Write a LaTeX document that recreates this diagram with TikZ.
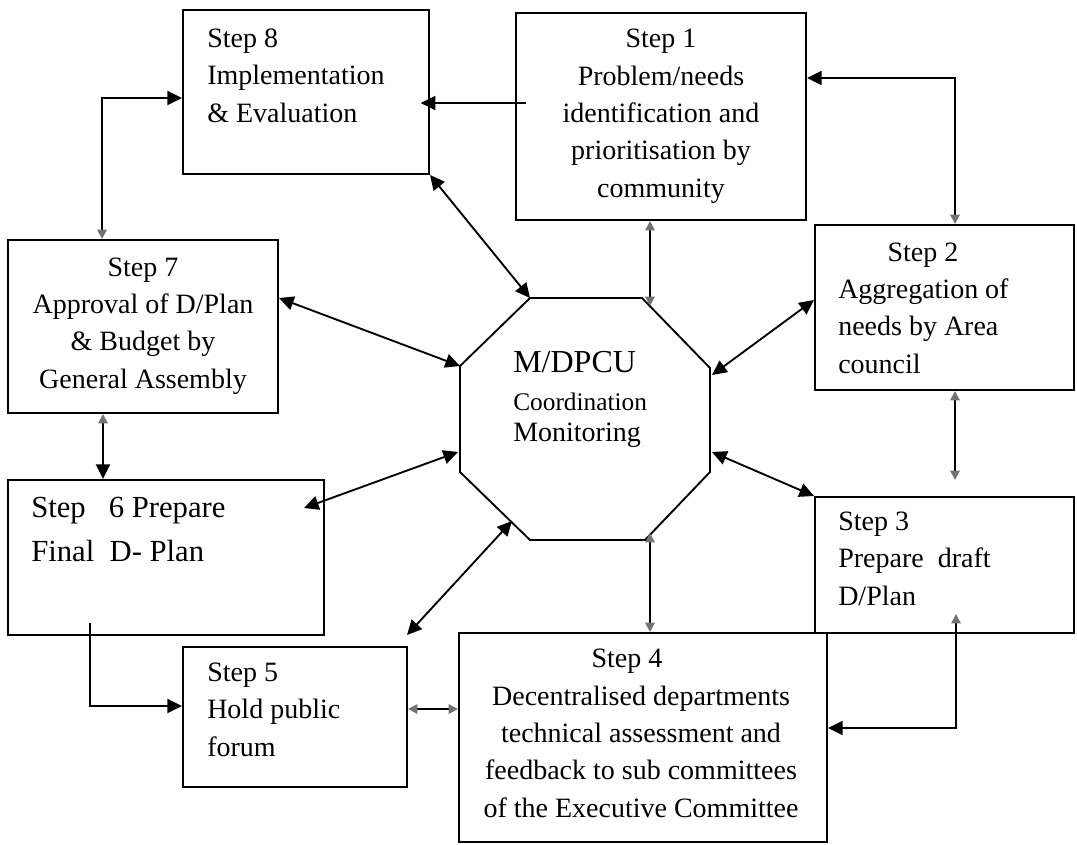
\documentclass[tikz,border=0pt]{standalone}
\usepackage{fontspec}
\setmainfont{Liberation Serif}
\usetikzlibrary{arrows.meta,fit,calc}
\tikzset{
  Big/.tip={Triangle[length=11pt,width=10.5pt]},
  Faint/.tip={Triangle[length=7pt,width=7pt,color=black!55]},
  box/.style={draw,rectangle,line width=1.5pt,inner sep=0pt},
  conn/.style={line width=1.4pt},
  txt/.style={inner sep=0pt,font=\fontsize{21pt}{28pt}\selectfont},
  % multi-line texts are placed by the baseline of their last line
  txtl/.style={txt,align=left,anchor=base west},
  txtc/.style={txt,align=center,anchor=base},
  hubtxt/.style={inner sep=0pt,anchor=base west},
}
\begin{document}
\begin{tikzpicture}[x=0.75pt,y=-0.75pt]
\useasboundingbox[fill=white] (0,0) rectangle (1077,844);

% step boxes
\node[box,fit={(183,10)(429,174)}]   (s8) {};
\node[box,fit={(516,13)(806,220)}]   (s1) {};
\node[box,fit={(815,225)(1074,390)}] (s2) {};
\node[box,fit={(815,497)(1074,633)}] (s3) {};
\node[box,fit={(459,633)(827,842)}]  (s4) {};
\node[box,fit={(183,647)(407,787)}]  (s5) {};
\node[box,fit={(8,480)(324,635)}]    (s6) {};
\node[box,fit={(8,240)(278,413)}]    (s7) {};

% box texts
\node[txtl] (t8) at (207,122) {Step 8\\Implementation\\\& Evaluation};
\node[txtc] (t1) at (661,197) {Step 1\\Problem/needs\\identification and\\prioritisation by\\community};
\node[txtl] (t2) at (838,373) {\hspace*{37pt}Step 2\\Aggregation of\\needs by Area\\council};
\node[txtl] (t3) at (838,605) {Step 3\\Prepare\ \ draft\\D/Plan};
\node[txtc] (t4) at (641,817) {Step 4\hspace*{21pt}\\Decentralised departments\\technical assessment and\\feedback to sub committees\\of the Executive Committee};
\node[txtl] (t5) at (207,756) {Step 5\\Hold public\\forum};
\node[txtl,font=\fontsize{23pt}{33pt}\selectfont] (t6) at (31,561) {Step\ \ \ 6 Prepare\\Final\ \ D- Plan};
\node[txtc] (t7) at (143,388) {Step 7\\Approval of D/Plan\\\& Budget by\\General Assembly};

% central octagon
\coordinate (o1) at (530,298);
\coordinate (o2) at (642,298);
\coordinate (o3) at (710,368);
\coordinate (o4) at (710,472);
\coordinate (o5) at (645,540);
\coordinate (o6) at (530,540);
\coordinate (o7) at (460,472);
\coordinate (o8) at (460,366);
\draw[line width=1.4pt] (o1)--(o2)--(o3)--(o4)--(o5)--(o6)--(o7)--(o8)--cycle;
\node[hubtxt,font=\fontsize{24pt}{28pt}\selectfont] (hub)  at (513,372) {M/DPCU};
\node[hubtxt,font=\fontsize{19pt}{23pt}\selectfont] (hubc) at (513,410) {Coordination};
\node[hubtxt,font=\fontsize{21pt}{25pt}\selectfont] (hubm) at (513,441) {Monitoring};

% connector ends on the octagon
\coordinate (hN)  at (650,306);
\coordinate (hNE) at (712,375);
\coordinate (hE)  at (712,452);
\coordinate (hS)  at (650,533);
\coordinate (hSW) at (512,521);
\coordinate (hW)  at (458,452);
\coordinate (s6r) at (304,508);
\coordinate (s5t) at (407,635);

% connectors
\draw[conn,{Faint}-{Big}] (s7.north -| 102,0) |- (s8.west |- 0,98);
\draw[conn,-{Big},shorten <=-8pt,shorten >=-7pt] (s1.west |- 0,103) -- (s8.east |- 0,103);
\draw[conn,{Big}-{Big}] (s8.south east) -- (o1);
\draw[conn,{Big}-{Faint}] (s1.east |- 0,78) -| (s2.north -| 955,0);
\draw[conn,{Faint}-{Faint}] (s1.south -| 650,0) -- (hN);
\draw[conn,{Big}-{Big}] (s7.east |- 0,298) -- (o8);
\draw[conn,{Big}-{Big}] (s2.west |- 0,300) -- (hNE);
\draw[conn,{Faint}-{Big}] (s7.south -| 103,0) -- (s6.north -| 103,0);
\draw[conn,{Faint}-{Faint},shorten >=12pt] (s2.south -| 955,0) -- (s3.north -| 955,0);
\draw[conn,{Big}-{Big}] (s6r) -- (hW);
\draw[conn,{Big}-{Big}] (s3.north west) -- (hE);
\draw[conn,{Big}-{Big}] (hSW) -- (s5t);
\draw[conn,{Faint}-{Faint}] (hS) -- (s4.north -| 650,0);
\draw[conn,-{Big},shorten <=-10pt] (s6.south -| 90,0) |- (s5.west |- 0,706);
\draw[conn,{Faint}-{Faint}] (s5.east |- 0,709) -- (s4.west |- 0,709);
\draw[conn,{Faint}-{Big},shorten <=-15pt] (s3.south -| 956,0) |- (s4.east |- 0,728);
\end{tikzpicture}
\end{document}
